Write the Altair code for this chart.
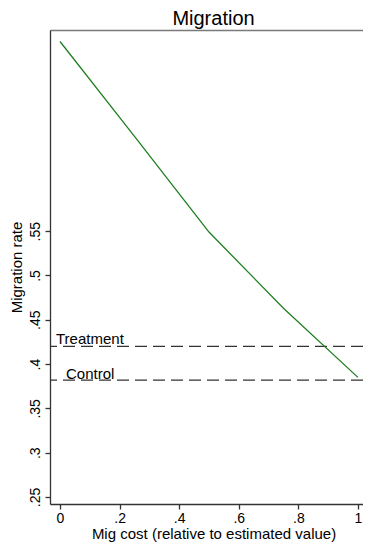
import altair as alt
import pandas as pd

# Data
cost = [0.0, 0.25, 0.5, 0.75, 1.0]
rate = [0.764, 0.657, 0.549, 0.463, 0.385]

ref_labels = ["Treatment", "Control"]
ref_values = [0.420, 0.382]

x_ticks = [0, 0.2, 0.4, 0.6, 0.8, 1.0]
y_ticks = [0.25, 0.3, 0.35, 0.4, 0.45, 0.5, 0.55]

FONT = "Liberation Sans"

line_df = pd.DataFrame({"cost": cost, "rate": rate})
ref_df = pd.DataFrame({"label": ref_labels, "value": ref_values, "x0": [0.0, 0.0]})

x_scale = alt.Scale(domain=[-0.0336, 1.017], nice=False, zero=False)
y_scale = alt.Scale(domain=[0.2421, 0.777], nice=False, zero=False)

x_axis = alt.Axis(
    orient="bottom",
    values=x_ticks,
    labelExpr="datum.value == 0 ? '0' : datum.value == 1 ? '1' : substring(format(datum.value, '.1f'), 1)",
    title="Mig cost (relative to estimated value)",
    grid=False,
    tickSize=5,
    labelPadding=2,
    titlePadding=1,
    titleX=163.5,
)
x_axis_top = alt.Axis(
    orient="top", ticks=False, labels=False, title="", grid=False,
    domainColor="#7a7a7a", domainWidth=1.3,
)
y_axis = alt.Axis(
    values=y_ticks,
    labelExpr="substring(format(datum.value, '.2~f'), 1)",
    title="Migration rate",
    grid=False,
    tickSize=5,
    labelAngle=-90,
    labelAlign="center",
    labelBaseline="bottom",
    labelPadding=3,
    titlePadding=4,
)

frame_top = alt.Chart(line_df).mark_point(opacity=0).encode(
    x=alt.X("cost:Q", scale=x_scale, axis=x_axis_top),
    y=alt.Y("rate:Q", scale=y_scale, axis=y_axis),
)

line = alt.Chart(line_df).mark_line(color="#1f7f1f", strokeWidth=1.3).encode(
    x=alt.X("cost:Q", scale=x_scale, axis=x_axis),
    y=alt.Y("rate:Q", scale=y_scale, axis=y_axis),
)

rules = alt.Chart(ref_df).mark_rule(
    color="#333333", strokeWidth=1.3, strokeDash=[12, 6]
).encode(y=alt.Y("value:Q", scale=y_scale, axis=y_axis))

treat_text = alt.Chart(ref_df[ref_df.label == "Treatment"]).mark_text(
    align="left", baseline="alphabetic", dx=-4, dy=-2, fontSize=15, font=FONT, color="black"
).encode(
    x=alt.X("x0:Q", scale=x_scale, axis=None),
    y=alt.Y("value:Q", scale=y_scale, axis=y_axis),
    text="label:N",
)
ctrl_text = alt.Chart(ref_df[ref_df.label == "Control"]).mark_text(
    align="left", baseline="alphabetic", dx=6, dy=-1, fontSize=15, font=FONT, color="black"
).encode(
    x=alt.X("x0:Q", scale=x_scale, axis=None),
    y=alt.Y("value:Q", scale=y_scale, axis=y_axis),
    text="label:N",
)

chart = (
    alt.layer(frame_top, rules, line, treat_text, ctrl_text)
    .resolve_axis(x="independent")
    .properties(
        width=313,
        height=474,
        title=alt.TitleParams(
            "Migration", fontSize=20, font=FONT, fontWeight="normal",
            anchor="middle", offset=1, dx=7, color="black",
        ),
        autosize=alt.AutoSizeParams(type="none"),
        padding={"left": 42, "top": 22, "right": 0, "bottom": 38},
    )
    .configure_view(stroke="transparent")
    .configure_axis(
        labelFont=FONT, titleFont=FONT, labelFontSize=14, titleFontSize=15,
        titleFontWeight="normal", labelColor="black", titleColor="black",
        domainColor="#333333", tickColor="#333333", domainWidth=1.3, tickWidth=1.3,
    )
)

chart.save("out.html", embed_options={"renderer": "svg", "actions": False})
